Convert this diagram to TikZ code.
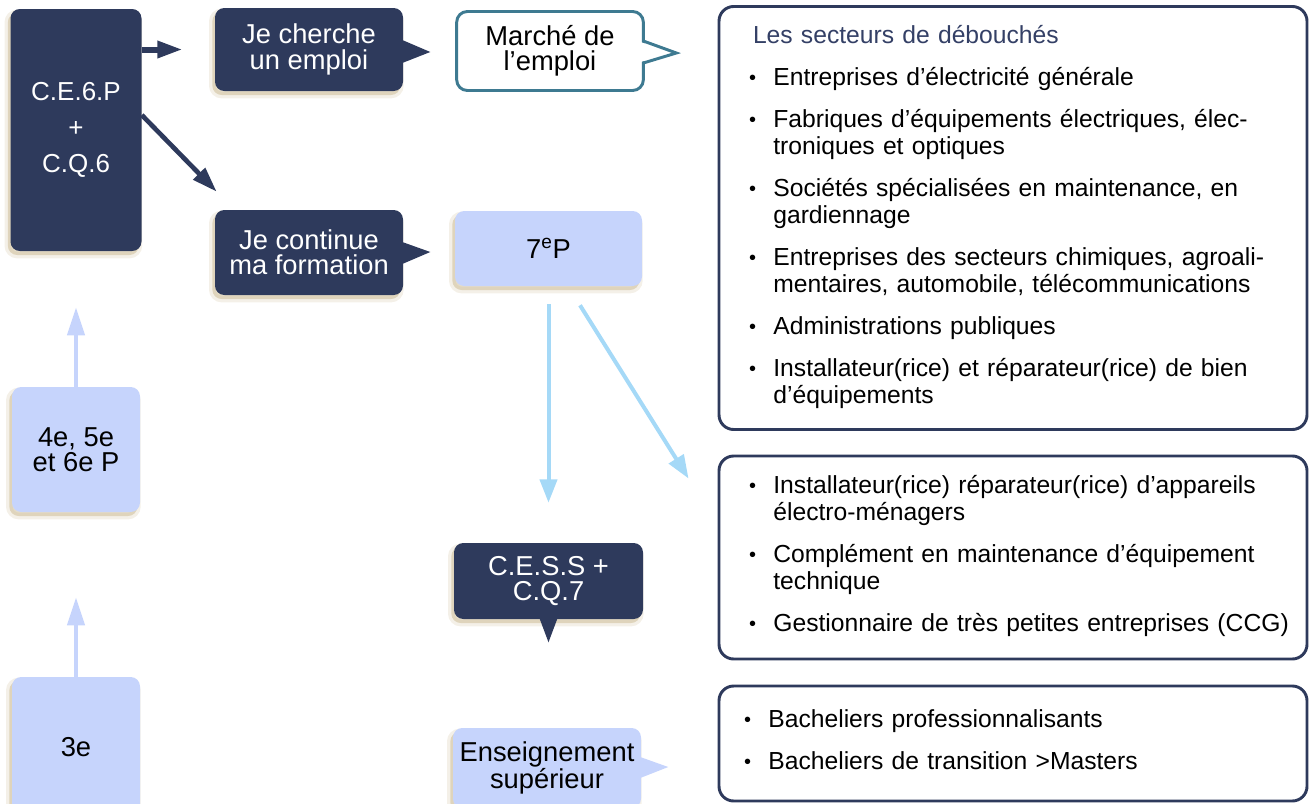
\documentclass[tikz,border=0pt]{standalone}
\usepackage{fontspec}
\setmainfont{Liberation Sans}
\usetikzlibrary{arrows.meta,calc}
\definecolor{navy}{RGB}{46,58,92}
\definecolor{lav}{RGB}{198,212,252}
\definecolor{sky}{RGB}{165,217,247}
\definecolor{petrol}{RGB}{62,122,145}
\definecolor{ombre}{RGB}{200,182,140}
\definecolor{titre}{RGB}{52,64,102}
\newcommand\puce{\raisebox{1pt}{\fontsize{15}{15}\selectfont\textbullet}}

\begin{document}
\begin{tikzpicture}[x=0.75pt, y=-0.75pt,
  ombrage/.style={preaction={fill=ombre, draw=ombre, line width=5pt, opacity=.2, transform canvas={shift={(-2pt,-3pt)}}},
                  preaction={fill=ombre, opacity=.35, transform canvas={shift={(-2pt,-3pt)}}}},
  boxfont/.style={font=\fontsize{20.5}{19}\selectfont},
  darkbox/.style={ombrage, fill=navy, text=white, rounded corners=7pt, align=center, inner sep=0pt, boxfont},
  lightbox/.style={ombrage, fill=lav, text=black, rounded corners=7pt, align=center, inner sep=0pt, boxfont},
  panel/.style={draw=navy, line width=2.2pt, rounded corners=11pt, fill=white, align=left,
                font=\fontsize{18.5}{20.25}\selectfont},
  navyarrow/.style={draw=navy, line width=4.5pt, -{Triangle[length=19pt,width=12pt]}},
  lavarrow/.style={draw=lav, line width=3.2pt, -{Triangle[length=21pt,width=12.75pt]}},
  skyarrow/.style={draw=sky, line width=3pt, -{Triangle[length=17.5pt,width=12.75pt]}}]
\useasboundingbox (0,0) rectangle (1309,803);

\node[darkbox, minimum width=98.25pt, minimum height=181.5pt, font=\fontsize{19.5}{27}\selectfont] (ce6p) at (76,130) {C.E.6.P\\+\\C.Q.6};
\node[darkbox, minimum width=141pt, minimum height=62.25pt] (cherche) at (309,49.5) {Je cherche\\un emploi};
\node[darkbox, minimum width=141pt, minimum height=63.75pt] (continue) at (309,252.5) {Je continue\\ma formation};
\node[draw=petrol, line width=2.2pt, fill=white, rounded corners=8pt, outer sep=0pt, align=center, boxfont,
      minimum width=140pt, minimum height=59.25pt] (marche) at (550,51) {Marché de\\l’emploi};
\node[lightbox, minimum width=140.25pt, minimum height=56.25pt] (septieme) at (548.5,248.5) {7\textsuperscript{e}P};
\node[darkbox, minimum width=141.75pt, minimum height=57pt] (cess) at (548.5,581) {C.E.S.S +\\C.Q.7};
\node[lightbox, minimum width=141pt, minimum height=60pt] (superieur) at (547,768) {Enseignement\\supérieur};
\node[lightbox, minimum width=96pt, minimum height=93.75pt] (quatre) at (76,449.5) {4e, 5e\\et 6e P};
\node[lightbox, minimum width=96pt, minimum height=105pt] (trois) at (76,747) {3e};

% pointes des bulles
\fill[navy] ($(cherche.east)+(-1,-9.5)$) -- ($(cherche.east)+(27,2.5)$) -- ($(cherche.east)+(-1,13.5)$) -- cycle;
\fill[navy] ($(continue.east)+(-1,-10.5)$) -- ($(continue.east)+(27,-0.5)$) -- ($(continue.east)+(-1,11.5)$) -- cycle;
\fill[white] ($(marche.east)+(-3,-9)$) -- ($(marche.east)+(33,2)$) -- ($(marche.east)+(-3,11)$) -- cycle;
\draw[petrol, line width=2.2pt] ($(marche.east)+(0,-10)$) -- ($(marche.east)+(33,2)$) -- ($(marche.east)+(0,12)$);
\fill[navy] ($(cess.south)+(-9,-1)$) -- ($(cess.south)+(0,23)$) -- ($(cess.south)+(9,-1)$) -- cycle;
\fill[lav] ($(superieur.east)+(-1,-11)$) -- ($(superieur.east)+(27,-1)$) -- ($(superieur.east)+(-1,10)$) -- cycle;

\node[panel, minimum width=441pt, minimum height=317.25pt, inner xsep=22.5pt, text width=396pt] (debouches) at (1013,218) {%
\begin{tabular}{@{}c@{\hspace{13pt}}l@{}}
\multicolumn{2}{@{\hspace{3pt}}l}{\color{titre}Les secteurs de débouchés}\\[11.25pt]
\puce & Entreprises d’électricité générale\\[11.25pt]
\puce & Fabriques d’équipements électriques, élec-\\
      & troniques et optiques\\[11.25pt]
\puce & Sociétés spécialisées en maintenance, en\\
      & gardiennage\\[11.25pt]
\puce & Entreprises des secteurs chimiques, agroali-\\
      & mentaires, automobile, télécommunications\\[11.25pt]
\puce & Administrations publiques\\[11.25pt]
\puce & Installateur(rice) et réparateur(rice) de bien\\
      & d’équipements
\end{tabular}};
\node[panel, minimum width=441pt, minimum height=152.25pt, inner xsep=22.5pt, text width=396pt] (filieres) at (1013,557.5) {%
\begin{tabular}{@{}c@{\hspace{13pt}}l@{}}
\puce & Installateur(rice) réparateur(rice) d’appareils\\
      & électro-ménagers\\[11.25pt]
\puce & Complément en maintenance d’équipement\\
      & technique\\[11.25pt]
\puce & Gestionnaire de très petites entreprises (CCG)
\end{tabular}};
\node[panel, minimum width=441pt, minimum height=86.25pt, inner xsep=18.75pt, text width=403.5pt] (etudes) at (1013,743.5) {%
\begin{tabular}{@{}c@{\hspace{13pt}}l@{}}
\puce & Bacheliers professionnalisants\\[11.25pt]
\puce & Bacheliers de transition >Masters
\end{tabular}};

\draw[navyarrow, shorten >=24pt] (ce6p.east |- cherche.west) -- (cherche.west);
\draw[navyarrow, line width=3.5pt] ($(ce6p.east)+(0,-15)$) -- ($(continue.north west)+(2,-18)$);
\draw[lavarrow, shorten >=42pt] (quatre.north) -- (ce6p.south);
\draw[lavarrow, shorten >=63.75pt] (trois.north) -- (quatre.south);
\draw[skyarrow, shorten <=13.5pt, shorten >=30pt] (septieme.south) -- (cess.north);
\draw[skyarrow] ($(septieme.south)+(31.5,19)$) -- ($(filieres.north west)+(-29,24)$);
\end{tikzpicture}
\end{document}
